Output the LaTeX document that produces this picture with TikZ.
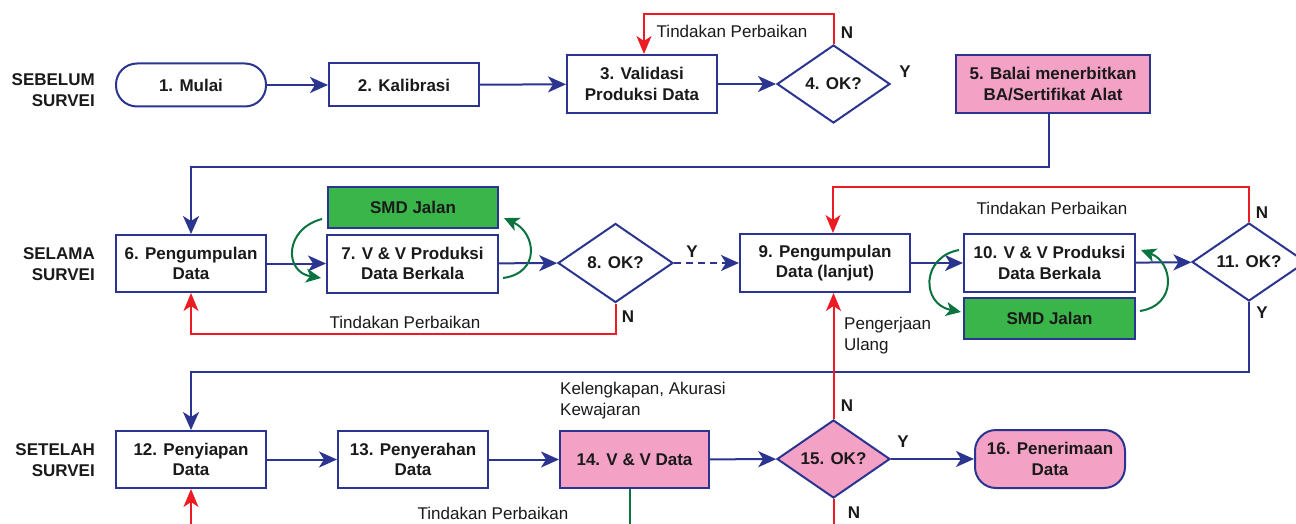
\documentclass[tikz,border=0pt]{standalone}
\usepackage{fontspec}
\setmainfont{Liberation Sans}
\usetikzlibrary{shapes.geometric,arrows.meta,calc}
\definecolor{navy}{HTML}{2B3590}
\definecolor{rd}{HTML}{ED1C24}
\definecolor{gfill}{HTML}{3AB54A}
\definecolor{garr}{HTML}{0B7340}
\definecolor{pink}{HTML}{F4A1C6}
\definecolor{txt}{HTML}{1A1A1A}
\tikzset{
  box/.style={draw=navy,line width=2pt,fill=white,inner sep=0pt,align=center,
    font=\fontsize{17}{20.5}\selectfont\bfseries,text=txt,minimum width=150pt,minimum height=57pt},
  term/.style={box,rounded corners=21pt},
  dia/.style={box,diamond,aspect=1.45,minimum width=113pt,minimum height=78pt},
  pinkf/.style={fill=pink},
  smd/.style={box,fill=gfill,minimum width=171pt,minimum height=41pt},
  conn/.style={draw=navy,line width=2pt,-{Stealth[length=18pt,width=16pt,inset=5pt]}},
  plain/.style={draw=navy,line width=2pt},
  redc/.style={draw=rd,line width=2pt,-{Stealth[length=18pt,width=15pt,inset=5pt]}},
  redp/.style={draw=rd,line width=2pt},
  garc/.style={draw=garr,line width=2pt,-{Stealth[length=15pt,width=14pt,inset=4pt]}},
  lbl/.style={font=\fontsize{17}{21}\selectfont,text=txt,inner sep=0pt},
  yn/.style={font=\fontsize{17}{20}\selectfont\bfseries,text=txt,inner sep=0pt},
  phase/.style={font=\fontsize{17}{21}\selectfont\bfseries,text=txt,inner sep=0pt,align=right,anchor=east}
}
\begin{document}
\begin{tikzpicture}[x=1pt,y=-1pt]
\clip (0,0) rectangle (1296,524);
\fill[white] (0,0) rectangle (1296,524);

% phase labels
\node[phase] (p1) at (95,90) {SEBELUM\\SURVEI};
\node[phase] (p2) at (95,264) {SELAMA\\SURVEI};
\node[phase] (p3) at (95,460) {SETELAH\\SURVEI};

% row 1
\node[term,minimum height=43pt] (n1) at (191,85) {1. Mulai};
\node[box,minimum height=43pt] (n2) at (404,85) {2. Kalibrasi};
\node[box,minimum height=58pt] (n3) at (642,84) {3. Validasi\\Produksi Data};
\node[dia] (d4) at (833.5,84) {4. OK?};
\node[box,pinkf,minimum width=194pt,minimum height=58pt] (n5) at (1053,84) {5. Balai menerbitkan\\BA/Sertifikat Alat};

% row 2
\node[box] (n6) at (191,263.5) {6. Pengumpulan\\Data};
\node[box,minimum width=171pt,minimum height=58pt] (n7) at (412.5,263.5) {7. V \& V Produksi\\Data Berkala};
\node[smd,minimum width=170pt] (s7) at (413,207.5) {SMD Jalan};
\node[dia,minimum width=115pt,minimum height=79pt] (d8) at (615.5,263) {8. OK?};
\node[box,minimum width=170pt,minimum height=58pt] (n9) at (825,263) {9. Pengumpulan\\Data (lanjut)};
\node[box,minimum width=171pt,minimum height=58pt] (n10) at (1049.5,263) {10. V \& V Produksi\\Data Berkala};
\node[smd] (s10) at (1049.5,318.5) {SMD Jalan};
\node[dia,minimum width=114pt] (d11) at (1249,262) {11. OK?};

% row 3
\node[box] (n12) at (191,459.5) {12. Penyiapan\\Data};
\node[box] (n13) at (413,459.5) {13. Penyerahan\\Data};
\node[box,pinkf,minimum width=149pt] (n14) at (634.5,459.5) {14. V \& V Data};
\node[dia,pinkf] (d15) at (833.5,459) {15. OK?};
\node[term,pinkf,minimum height=58pt] (n16) at (1050,459) {16. Penerimaan\\Data};

% helper coordinates
\coordinate (r1) at (0,14);
\coordinate (b1) at (0,167);
\coordinate (r2) at (0,187);
\coordinate (r3) at (0,334);
\coordinate (b2) at (0,372);
\coordinate (bot) at (0,530);

% row 1 connectors
\draw[conn] (n1) -- (n2);
\draw[conn] (n2) -- (n3);
\draw[conn] (n3) -- (d4);
\draw[redc] (d4.north) -- (d4.north |- r1) -| ([xshift=2pt]n3.north);
\draw[conn] ([xshift=-4pt]n5.south) -- ([xshift=-4pt]n5.south |- b1) -| (n6.north);

% row 2 connectors
\draw[conn] (n6) -- (n7);
\draw[conn] (n7) -- (d8);
\draw[redc] (d8.south) -- (d8.south |- r3) -| (n6.south);
\draw[conn,dash pattern=on 7pt off 5pt] (d8.east) -- (n9.west);
\draw[conn] (n9) -- (n10);
\draw[conn] (n10) -- (d11);
\draw[redc] (d11.north) -- (d11.north |- r2) -| ([xshift=8pt]n9.north);
\draw[conn] (d11.south) -- (d11.south |- b2) -| (n12.north);

% green loops
\draw[garc] ([xshift=-5pt,yshift=10pt]s7.south west) .. controls +(-38pt,-10pt) and +(-37pt,6pt) .. ([xshift=-5pt,yshift=15.5pt]n7.south west);
\draw[garc] ([xshift=4pt,yshift=15.5pt]n7.south east) .. controls +(38pt,5pt) and +(32pt,-15pt) .. ([xshift=5pt,yshift=11pt]s7.south east);
\draw[garc] ([xshift=-4pt,yshift=-17pt]n10.north west) .. controls +(-38pt,-7pt) and +(-40pt,8pt) .. ([xshift=-2pt,yshift=-15pt]s10.north west);
\draw[garc] ([xshift=4pt,yshift=-14pt]s10.north east) .. controls +(38pt,6pt) and +(32pt,-12pt) .. ([xshift=5pt,yshift=-17pt]n10.north east);

% row 3 connectors
\draw[conn] (n12) -- (n13);
\draw[conn] (n13) -- (n14);
\draw[conn] (n14) -- (d15);
\draw[conn] (d15) -- (n16);
\draw[redc] (d15.north) -- (d15.north |- n9.south);
\draw[redp] (d15.south) -- (d15.south |- bot);
\draw[draw=garr,line width=2pt] ([xshift=-4.5pt]n14.south) -- ([xshift=-4.5pt]n14.south |- bot);
\draw[redc] (n12.south |- bot) -- (n12.south);

% labels
\node[lbl] (t1) at (732,31) {Tindakan Perbaikan};
\node[lbl] (t2) at (405,322) {Tindakan Perbaikan};
\node[lbl] (t3) at (1052,208) {Tindakan Perbaikan};
\node[lbl] (t4) at (493,513) {Tindakan Perbaikan};
\node[lbl,align=left,anchor=west] (t5) at (844,336) {Pengerjaan\\Ulang};
\node[lbl,align=left,anchor=west] (t6) at (560,401) {Kelengkapan, Akurasi\\Kewajaran};

\node[yn] (y1) at (847,33) {N};
\node[yn] (y2) at (905,72) {Y};
\node[yn] (y3) at (692,252) {Y};
\node[yn] (y4) at (628,317) {N};
\node[yn] (y5) at (1262,213) {N};
\node[yn] (y6) at (1262,313) {Y};
\node[yn] (y7) at (847,406) {N};
\node[yn] (y8) at (903,442) {Y};
\node[yn] (y9) at (854,513) {N};
\end{tikzpicture}
\end{document}
